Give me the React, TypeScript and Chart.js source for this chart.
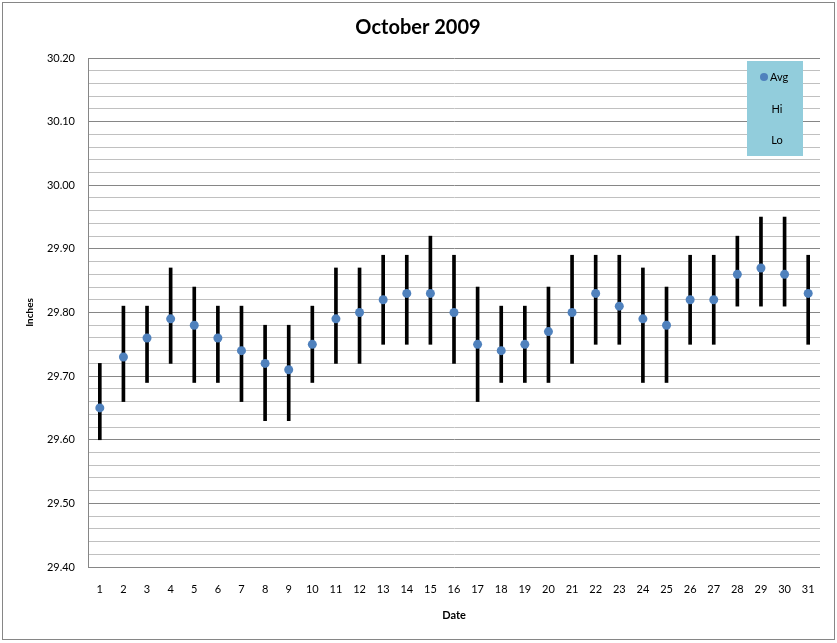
import React, { useEffect, useRef } from "react";
import { Chart, registerables } from "chart.js";

Chart.register(...registerables);

const days = Array.from({ length: 31 }, (_, i) => String(i + 1));
const avg = [29.65, 29.73, 29.76, 29.79, 29.78, 29.76, 29.74, 29.72, 29.71, 29.75, 29.79, 29.80, 29.82, 29.83, 29.83, 29.80, 29.75, 29.74, 29.75, 29.77, 29.80, 29.83, 29.81, 29.79, 29.78, 29.82, 29.82, 29.86, 29.87, 29.86, 29.83];
const hi = [29.72, 29.81, 29.81, 29.87, 29.84, 29.81, 29.81, 29.78, 29.78, 29.81, 29.87, 29.87, 29.89, 29.89, 29.92, 29.89, 29.84, 29.81, 29.81, 29.84, 29.89, 29.89, 29.89, 29.87, 29.84, 29.89, 29.89, 29.92, 29.95, 29.95, 29.89];
const lo = [29.60, 29.66, 29.69, 29.72, 29.69, 29.69, 29.66, 29.63, 29.63, 29.69, 29.72, 29.72, 29.75, 29.75, 29.75, 29.72, 29.66, 29.69, 29.69, 29.69, 29.72, 29.75, 29.75, 29.69, 29.69, 29.75, 29.75, 29.81, 29.81, 29.81, 29.75];
const yMin = 29.4;
const yMax = 30.2;
const yStep = 0.02;

const FONT = "Lato, 'Open Sans', sans-serif";
const AVG_COLOR = "#4F81BD";

const isMajor = (v: number) => Math.abs(Math.round(v * 10) - v * 10) < 1e-4;

const decorPlugin = {
  id: "decor",
  afterDraw(chart: any) {
    const ctx = chart.ctx as CanvasRenderingContext2D;
    const area = chart.chartArea;
    ctx.save();
    // outer border
    ctx.strokeStyle = "#868686";
    ctx.lineWidth = 1;
    ctx.strokeRect(2.5, 2.5, 832, 637);
    // title
    ctx.fillStyle = "#000";
    ctx.textAlign = "center";
    ctx.textBaseline = "middle";
    ctx.font = `bold 20px ${FONT}`;
    ctx.fillText("October 2009", 418, 28);
    // axis titles
    ctx.font = `bold 11px ${FONT}`;
    ctx.fillText("Date", (area.left + area.right) / 2, 615);
    ctx.save();
    ctx.translate(30, (area.top + area.bottom) / 2);
    ctx.rotate(-Math.PI / 2);
    ctx.font = `bold 10px ${FONT}`;
    ctx.fillText("Inches", 0, 0);
    ctx.restore();
    // legend
    ctx.fillStyle = "#92CDDC";
    ctx.fillRect(747, 61, 56, 95);
    ctx.fillStyle = AVG_COLOR;
    ctx.beginPath();
    ctx.arc(764, 77, 4, 0, Math.PI * 2);
    ctx.fill();
    ctx.fillStyle = "#000";
    ctx.font = `11px ${FONT}`;
    ctx.textAlign = "left";
    ctx.fillText("Avg", 770, 77);
    ctx.textAlign = "center";
    ctx.fillText("Hi", 777, 109);
    ctx.fillText("Lo", 777, 140);
    ctx.restore();
  },
};

export default function App() {
  const ref = useRef<HTMLCanvasElement | null>(null);

  useEffect(() => {
    document.body.style.margin = "0";
    const canvas = ref.current;
    if (!canvas) return;
    const chart = new Chart(canvas, {
      type: "bar",
      data: {
        labels: days,
        datasets: [
          {
            type: "line",
            label: "Avg",
            data: avg,
            showLine: false,
            pointRadius: 4.5,
            pointHoverRadius: 4.5,
            pointBackgroundColor: AVG_COLOR,
            pointBorderColor: AVG_COLOR,
            pointBorderWidth: 0,
            order: 0,
          } as any,
          {
            type: "bar",
            label: "Hi-Lo",
            data: days.map((_, i) => [lo[i], hi[i]]),
            backgroundColor: "#000",
            barThickness: 3,
            order: 1,
          } as any,
        ],
      },
      options: {
        responsive: false,
        animation: false,
        layout: { padding: { top: 58, right: 17, bottom: 0, left: 0 } },
        plugins: {
          legend: { display: false },
          title: { display: false },
          tooltip: { enabled: false },
        },
        scales: {
          x: {
            type: "category",
            offset: true,
            grid: { display: false, drawTicks: false },
            border: { display: false },
            ticks: {
              color: "#000",
              font: { family: FONT, size: 11 },
              padding: 16,
              maxRotation: 0,
              autoSkip: false,
            },
            afterFit(scale: any) {
              scale.height = 76;
            },
          },
          y: {
            type: "linear",
            min: yMin,
            max: yMax,
            grid: {
              drawTicks: false,
              color: (c: any) => (c.tick && isMajor(c.tick.value) ? "#868686" : "#C0C0C0"),
              lineWidth: 1,
            },
            border: { display: true, color: "#868686" },
            ticks: {
              stepSize: yStep,
              maxTicksLimit: 100,
              autoSkip: false,
              color: "#000",
              font: { family: FONT, size: 11 },
              padding: 13,
              callback: (v: any) => (isMajor(Number(v)) ? Number(v).toFixed(2) : ""),
            },
            afterFit(scale: any) {
              scale.width = 88;
            },
          },
        },
      },
      plugins: [decorPlugin],
    });
    return () => chart.destroy();
  }, []);

  return (
    <div style={{ width: 837, height: 643 }}>
      <canvas ref={ref} width={837} height={643} style={{ display: "block" }} />
    </div>
  );
}
